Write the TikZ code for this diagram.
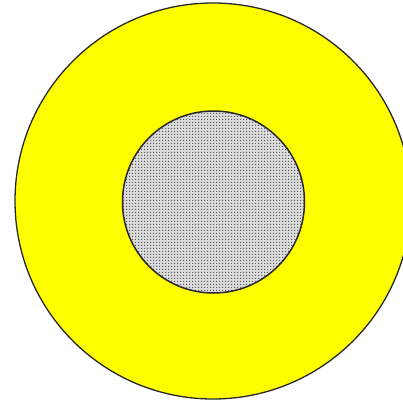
\documentclass[tikz,border=0pt]{standalone}
\usetikzlibrary{patterns.meta}
\definecolor{ringyellow}{RGB}{255,255,0}
\definecolor{coregray}{RGB}{220,220,220}
\definecolor{dotgray}{RGB}{90,90,90}
\definecolor{edgegray}{RGB}{40,40,40}
\pgfdeclarepattern{
  name=griddots,
  type=uncolored,
  bottom left={\pgfpoint{0pt}{0pt}},
  top right={\pgfpoint{3pt}{3pt}},
  tile size={\pgfpoint{3pt}{3pt}},
  code={\pgfpathrectangle{\pgfpoint{0pt}{0pt}}{\pgfpoint{1.6pt}{1.6pt}}\pgfusepath{fill}}
}
\tikzset{
  ring/.style={fill=ringyellow, draw=edgegray, line width=1.3pt},
  core/.style={draw=edgegray, line width=1.5pt}
}
\begin{document}
\begin{tikzpicture}[x=1pt,y=-1pt]
\useasboundingbox (0,0) rectangle (403,405);
\clip (0,0) rectangle (403,405);
\draw[ring] (213,201) circle (198);
\fill[coregray] (213.5,202) circle (91);
\fill[pattern=griddots, pattern color=dotgray] (213.5,202) circle (91);
\draw[core] (213.5,202) circle (91);
\end{tikzpicture}
\end{document}
